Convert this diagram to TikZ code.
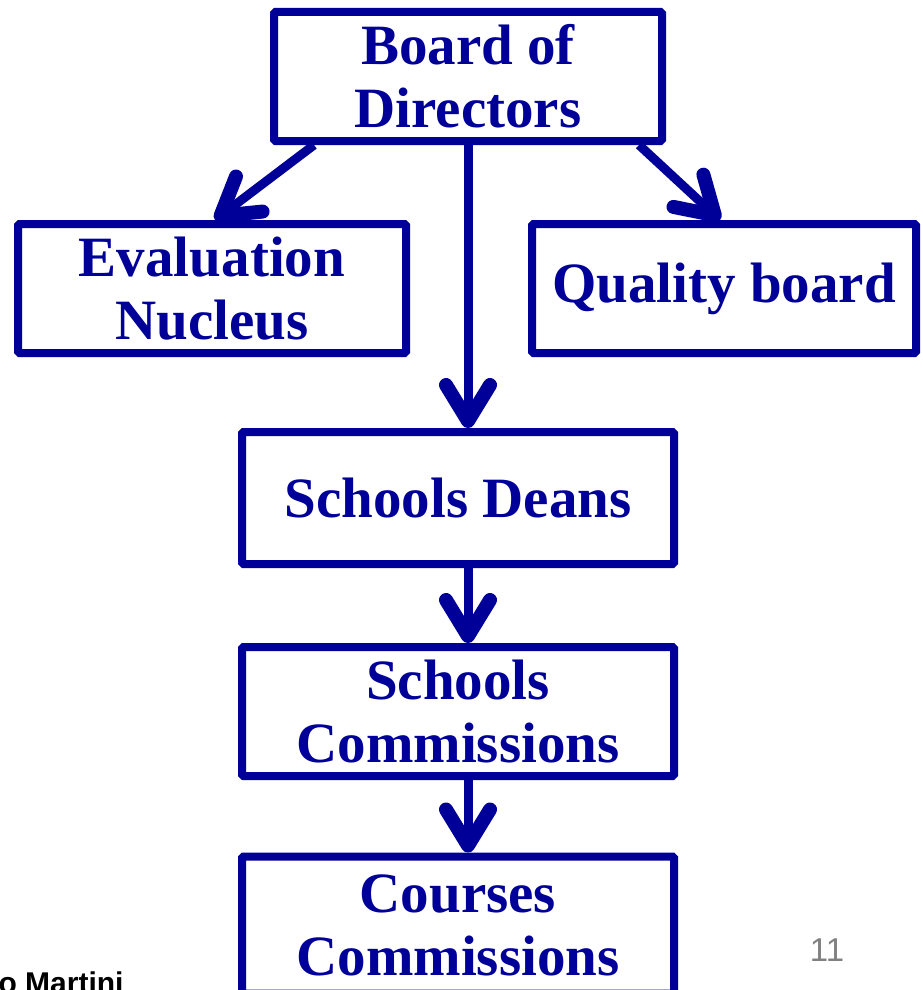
\documentclass[tikz,border=0pt]{standalone}
\usepackage{fontspec}
\setmainfont{Liberation Serif}
\setsansfont{Liberation Sans}
\usetikzlibrary{arrows.meta}
\definecolor{navyblue}{RGB}{0,0,153}
\begin{document}
\begin{tikzpicture}[x=1pt, y=-1pt,
          font=\bfseries\fontsize{57}{63}\selectfont,
          unit/.style={draw=navyblue, line width=8pt, text=navyblue, align=center, inner sep=0pt,
            rounded corners=1.5pt, minimum height=129pt},
          link/.style={draw=navyblue, line width=9pt,
            -{Straight Barb[length=36pt, width=44pt, line width=14pt, round]}}]
        \useasboundingbox (0,0) rectangle (922,990);
        \node[unit, minimum width=388pt] (board) at (468,76.5) {Board of\\Directors};
        \node[unit, minimum width=388pt] (eval) at (212,288.5) {Evaluation\\Nucleus};
        \node[unit, minimum width=384pt] (quality) at (724,288.5) {Quality board};
        \node[unit, minimum width=432pt, minimum height=132pt] (deans) at (458,498) {Schools Deans};
        \node[unit, minimum width=432pt] (scomm) at (458,711.5) {Schools\\Commissions};
        \node[unit, minimum width=432pt, minimum height=137pt] (ccomm) at (458,925) {Courses\\Commissions};
        \draw[link] ([xshift=44pt]board.south west) -- ([xshift=3pt]eval.north);
        \draw[link] ([xshift=-27pt]board.south east) -- ([xshift=-4pt]quality.north);
        \draw[link] (board.south) -- (board.south |- deans.north);
        \draw[link] (board.south |- deans.south) -- (board.south |- scomm.north);
        \draw[link] (board.south |- scomm.south) -- (board.south |- ccomm.north);
        \node[font=\sffamily\bfseries\fontsize{30}{36}\selectfont, anchor=base west] (author) at (-5,993) {o Martini};
        \node[font=\sffamily\fontsize{33}{40}\selectfont, text=gray] (page) at (827,950) {11};
      \end{tikzpicture}
\end{document}
